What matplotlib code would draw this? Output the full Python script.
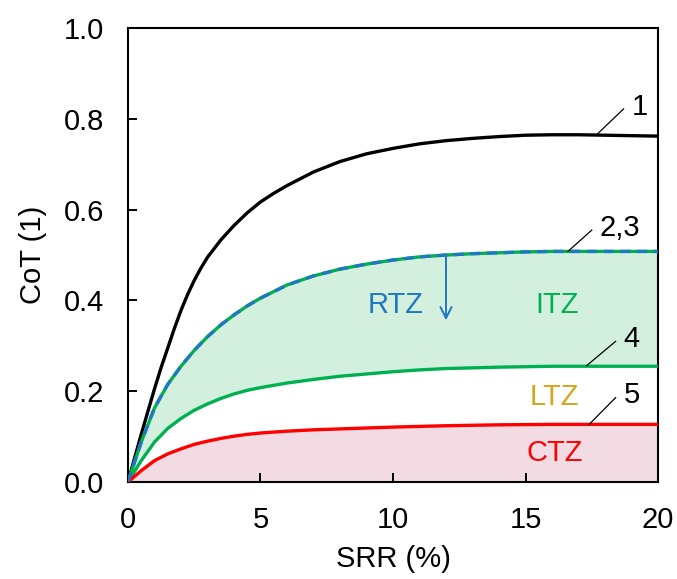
import numpy as np
import matplotlib
matplotlib.use("Agg")
from matplotlib import pyplot as plt

plt.rcParams['font.family'] = ['Liberation Sans', 'DejaVu Sans']

# SRR (%) and CoT values for each curve
srr_1 = [0, 0.5, 1, 1.25, 1.5, 1.75, 2, 2.25, 2.5, 2.75, 3, 3.5, 4, 4.5, 5, 5.5, 6, 7, 8, 9, 10, 11, 12, 13, 14,
         15, 16, 17, 18, 19, 20]
cot_1 = [0, 0.105, 0.205, 0.252, 0.295, 0.338, 0.378, 0.413, 0.444, 0.471, 0.495, 0.533, 0.565, 0.593, 0.617, 0.636,
         0.653, 0.683, 0.706, 0.723, 0.735, 0.745, 0.752, 0.757, 0.761, 0.764, 0.765, 0.765, 0.764, 0.763, 0.762]

srr_23 = [0, 0.5, 1, 1.5, 2, 2.5, 3, 3.5, 4, 4.5, 5, 6, 7, 8, 9, 10, 11, 12, 13, 14, 15, 16, 18, 20]
cot_23 = [0, 0.088, 0.163, 0.215, 0.255, 0.29, 0.32, 0.346, 0.368, 0.388, 0.405, 0.434, 0.454, 0.469, 0.48, 0.489,
          0.496, 0.5, 0.503, 0.505, 0.507, 0.508, 0.508, 0.508]

srr_4 = [0, 0.5, 1, 1.5, 2, 2.5, 3, 3.5, 4, 4.5, 5, 6, 7, 8, 9, 10, 11, 12, 14, 16, 18, 20]
cot_4 = [0, 0.047, 0.088, 0.118, 0.14, 0.158, 0.172, 0.184, 0.194, 0.202, 0.208, 0.218, 0.226, 0.233, 0.238,
         0.243, 0.247, 0.25, 0.253, 0.255, 0.255, 0.255]

srr_5 = [0, 0.5, 1, 1.5, 2, 2.5, 3, 3.5, 4, 4.5, 5, 6, 7, 8, 10, 12, 14, 16, 18, 20]
cot_5 = [0, 0.025, 0.047, 0.062, 0.073, 0.083, 0.09, 0.096, 0.101, 0.105, 0.108, 0.112, 0.115, 0.117, 0.121,
         0.124, 0.126, 0.127, 0.127, 0.127]

BLACK = '#000000'
GREEN = '#00b050'
BLUE = '#1f78c1'
RED = '#ff0000'
GOLD = '#d6a51e'
FS = 21

fig = plt.figure(figsize=(6.77, 5.79), dpi=100)
ax = fig.add_axes([0.189, 0.1675, 0.783, 0.784])

# shaded zones: ITZ between 2,3 and 4, CTZ under 5
x_fill = np.array(srr_23, dtype=float)
upper = np.array(cot_23)
lower = np.interp(x_fill, srr_4, cot_4)
ax.fill_between(x_fill, lower, upper, color='#d3f0df', lw=0, zorder=1)
ax.fill_between(srr_5, 0, cot_5, color='#f2dbe3', lw=0, zorder=1)

ax.plot(srr_1, cot_1, color=BLACK, lw=2.4, zorder=3, solid_joinstyle='round')
ax.plot(srr_23, cot_23, color=GREEN, lw=2.4, zorder=3, solid_joinstyle='round')
ax.plot(srr_23, cot_23, color=BLUE, lw=2.4, dashes=(3, 2), zorder=4)
ax.plot(srr_4, cot_4, color=GREEN, lw=2.4, zorder=3, solid_joinstyle='round')
ax.plot(srr_5, cot_5, color=RED, lw=2.4, zorder=3, solid_joinstyle='round')

# arrow from 2,3 down into the ITZ
ax.annotate('', xy=(12, 0.35), xytext=(12, 0.502),
            arrowprops=dict(arrowstyle='->', color=BLUE, lw=1.4, mutation_scale=20), zorder=5)

# curve number labels with leader lines
leaders = [((17.7, 0.766), (18.7, 0.822), '1'),
           ((16.6, 0.508), (17.5, 0.555), '2,3'),
           ((17.3, 0.256), (18.4, 0.31), '4'),
           ((17.4, 0.127), (18.4, 0.186), '5')]
for (x0, y0), (x1, y1), txt in leaders:
    ax.plot([x0, x1], [y0, y1], color=BLACK, lw=0.9, zorder=5)
    ax.text(x1 + 0.3, y1 + 0.005, txt, fontsize=FS, ha='left', va='center', zorder=5)

ax.text(10.1, 0.39, 'RTZ', color=BLUE, fontsize=FS, ha='center', va='center')
ax.text(16.2, 0.39, 'ITZ', color=GREEN, fontsize=FS, ha='center', va='center')
ax.text(16.1, 0.187, 'LTZ', color=GOLD, fontsize=FS, ha='center', va='center')
ax.text(16.1, 0.063, 'CTZ', color=RED, fontsize=FS, ha='center', va='center')

ax.set_xlim(0, 20)
ax.set_ylim(0, 1.0)
ax.set_xticks([0, 5, 10, 15, 20])
ax.set_yticks([0, 0.2, 0.4, 0.6, 0.8, 1.0])
ax.set_yticklabels(['0.0', '0.2', '0.4', '0.6', '0.8', '1.0'])
ax.tick_params(direction='in', length=6.5, width=1.4, labelsize=FS, top=False, right=False)
ax.tick_params(axis='y', pad=17)
ax.tick_params(axis='x', pad=17)
for s in ax.spines.values():
    s.set_linewidth(1.5)
ax.set_xlabel('SRR (%)', fontsize=FS, labelpad=8)
ax.set_ylabel('CoT (1)', fontsize=FS, labelpad=12)

fig.savefig('out.png', dpi=100)
